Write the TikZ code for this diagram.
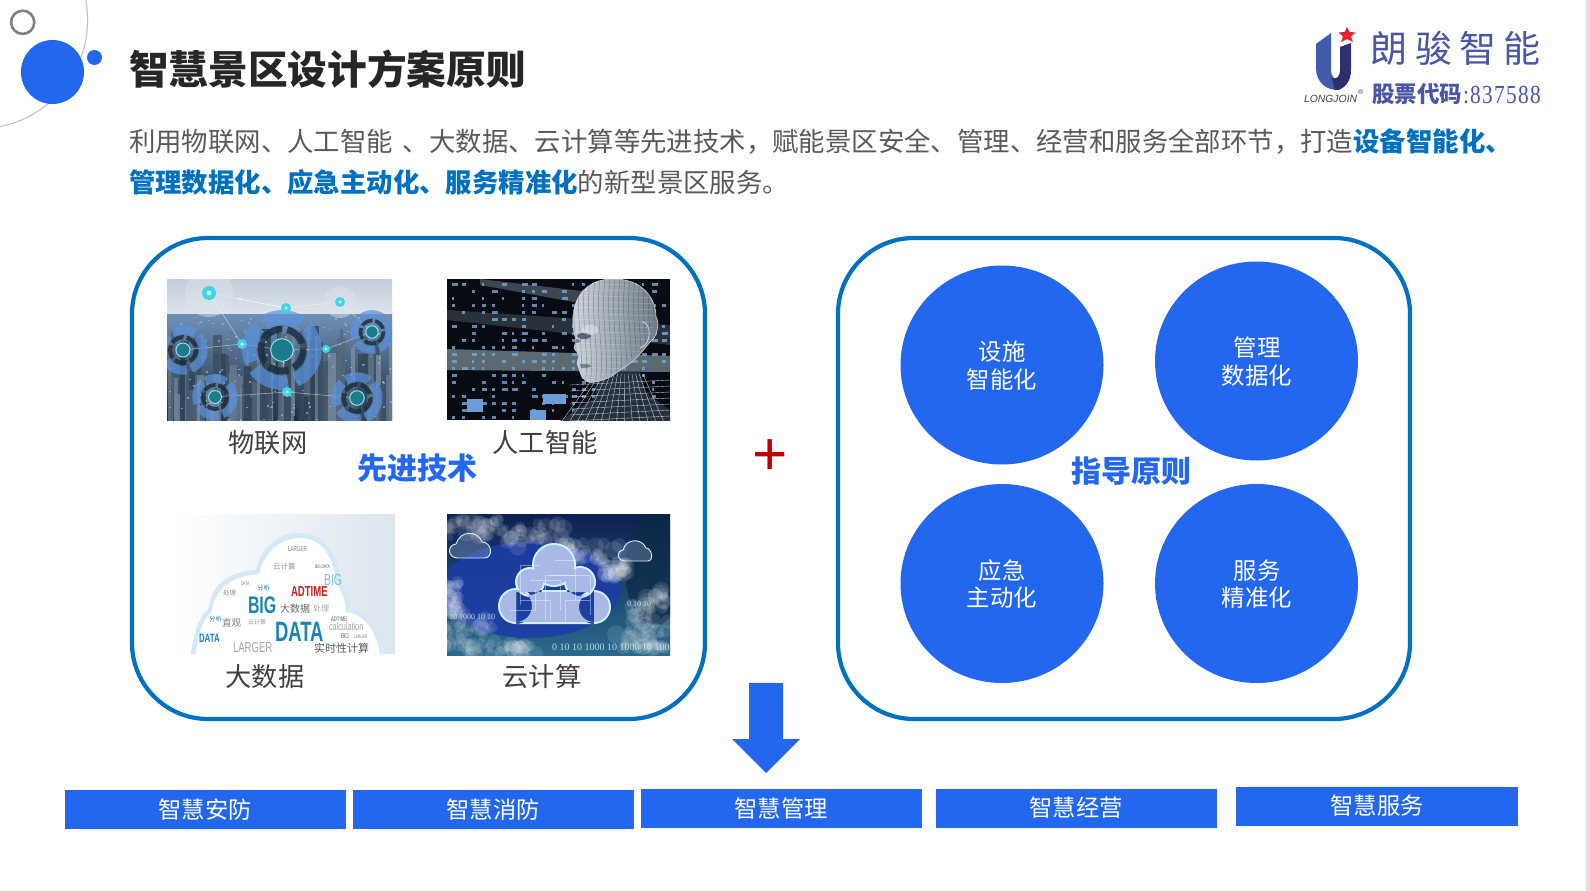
\documentclass[tikz,border=0pt]{standalone}
\usepackage{fontspec}
\setmainfont{Noto Sans CJK SC}
\newfontfamily\plusfont{Noto Sans}
\newfontfamily\logolat{Liberation Sans}
\newfontfamily\logonum[FakeStretch=0.82,LetterSpace=5]{Liberation Serif}
\newfontfamily\digitsfont{Liberation Serif}
\newfontfamily\cond[FakeStretch=0.66]{Liberation Sans}
\usetikzlibrary{shapes.geometric}
\definecolor{mainblue}{HTML}{2367EE}
\definecolor{boxblue}{HTML}{0070C0}
\definecolor{bodygray}{HTML}{595959}
\definecolor{labelgray}{HTML}{404040}
\definecolor{titlegray}{HTML}{262626}
\definecolor{logoblue}{HTML}{4A55A5}
\definecolor{logoL}{HTML}{3F5BA9}
\definecolor{logoR}{HTML}{2E2F6B}
\definecolor{logoRed}{HTML}{E8202A}
\definecolor{skyT}{HTML}{C2CEDC}
\definecolor{skyB}{HTML}{DEE4EB}
\definecolor{cityT}{HTML}{6F90B6}
\definecolor{cityB}{HTML}{1E2E40}
\definecolor{bldL}{HTML}{9DB2C8}
\definecolor{bldD}{HTML}{1F3042}
\definecolor{ringA}{HTML}{5B93E0}
\definecolor{ringB}{HTML}{1C3044}
\definecolor{ringC}{HTML}{1E7A8C}
\definecolor{iconC}{HTML}{3FD5E5}
\definecolor{aiBg}{HTML}{070B12}
\definecolor{aiBand}{HTML}{6A7A82}
\definecolor{aiDot}{HTML}{7BA6D6}
\definecolor{aiBlock}{HTML}{6E9CD8}
\definecolor{faceL}{HTML}{CFD6DD}
\definecolor{faceR}{HTML}{6C7884}
\definecolor{faceM}{HTML}{26303C}
\definecolor{dataBlue}{HTML}{1A84B4}
\definecolor{dataRed}{HTML}{C8201E}
\definecolor{dataBgR}{HTML}{DCE6EE}
\definecolor{glow}{HTML}{D3E9F5}
\definecolor{ccT}{HTML}{0E2050}
\definecolor{ccB}{HTML}{2A6A8C}
\definecolor{ccM}{HTML}{1C3CA8}
\definecolor{ccR}{HTML}{0A2A44}
\definecolor{ccLine}{HTML}{CDF3F8}
\definecolor{ccIn}{HTML}{A9B8E4}
\newcommand{\fs}[1]{\fontsize{#1}{#1}\selectfont}
\tikzset{
  txt/.style={inner sep=0pt,outer sep=0pt,anchor=base},
  txtw/.style={inner sep=0pt,outer sep=0pt,anchor=base west},
  bodytext/.style={txtw,text=bodygray,font=\fs{26.4}},
  piclabel/.style={txt,text=labelgray,font=\fs{26.2}},
  headblue/.style={txt,text=mainblue,font=\fs{30}\bfseries},
  roundbox/.style={draw=boxblue,line width=4.2pt,rounded corners=76pt,fill=white},
  principle/.style={ellipse,fill=mainblue,minimum width=203pt,minimum height=199pt,inner sep=0pt},
  circtext/.style={txt,text=white,font=\fs{23.4}},
  bar/.style={fill=mainblue,inner sep=0pt},
  bartext/.style={txt,text=white,font=\fs{23.3}},
  cj/.style={txtw,font=\fs{#1}},
  cb/.style={txtw,font=\cond\bfseries\fs{#1},text=dataBlue},
  cg/.style={txtw,font=\cond\fs{#1},text=black!50},
  cdig/.style={txtw,text=ccLine,font=\digitsfont\fs{#1},opacity=.85},
}
\newcommand{\ringg}[3]{%
  \draw[line width=#3*0.34pt,color=ringA,opacity=.7,dash pattern=on #3*0.9pt off #3*0.18pt] (#1,#2) circle [radius=#3*0.78];
  \draw[line width=#3*0.16pt,color=ringB,opacity=.85,dash pattern=on #3*0.5pt off #3*0.12pt] (#1,#2) circle [radius=#3*0.5];
  \fill[color=ringC] (#1,#2) circle [radius=#3*0.27];
  \draw[color=iconC!60!white,line width=1pt] (#1,#2) circle [radius=#3*0.27];
}
\newcommand{\cicon}[3]{\fill[color=iconC] (#1,#2) circle [radius=#3];\fill[white,opacity=.7] (#1,#2) circle [radius=#3*0.35];}
\newcommand{\cloudshape}[2]{%
  \fill[#1] (516,606) circle [radius=18-#2] (530,582) circle [radius=15-#2] (554,565) circle [radius=22-#2]
   (580,582) circle [radius=16-#2] (594,607) circle [radius=17-#2] (516,590+#2) rectangle (594,624-#2);
}
\begin{document}
\begin{tikzpicture}[x=1pt,y=-1pt]
\useasboundingbox (0,0) rectangle (1590,891);
\clip (0,0) rectangle (1590,891);
\fill[white] (0,0) rectangle (1590,891);
\fill[color=black!12] (1586,0) rectangle (1590,891);

% decoration, top left
\draw[color=black!25,line width=1pt] (-21,20) circle [radius=108.6];
\fill[mainblue] (52.5,72) ellipse [x radius=31.5,y radius=32];
\fill[mainblue] (94.5,57.5) circle [radius=7.5];
\draw[color=black!50,line width=2.6pt] (22.7,22.3) circle [radius=11.6];

% title and body
\node[txtw,text=titlegray,font=\fs{39.7}\bfseries] (title) at (129,84.5) {智慧景区设计方案原则};
\node[bodytext] (line1) at (129,151) {利用物联网、人工智能\hspace{10pt}、大数据、云计算等先进技术，赋能景区安全、管理、经营和服务全部环节，打造\textcolor{boxblue}{\bfseries 设备智能化、}};
\node[bodytext] (line2) at (129,192) {\textcolor{boxblue}{\bfseries 管理数据化、应急主动化、服务精准化}的新型景区服务。};

% logo
\fill[logoL] (1316,44) -- (1331,33) -- (1331,70) .. controls (1331,76) and (1334,80) .. (1340,80) -- (1340,90) .. controls (1326,91) and (1316,82) .. (1316,68) -- cycle;
\fill[logoR] (1340,47) -- (1351,43) -- (1351,70) .. controls (1351,82) and (1344,90) .. (1335,90) .. controls (1333,85) and (1333,82) .. (1332,78) .. controls (1337,80) and (1340,76) .. (1340,70) -- cycle;
\fill[logoRed] (1347,27) -- (1349.4,32) -- (1355.5,32.5) -- (1351,36.5) -- (1353,42) -- (1347,39) -- (1341,42) -- (1343,36.5) -- (1338.5,32.5) -- (1344.6,32) -- cycle;
\node[txtw,text=black!75,font=\logolat\itshape\fs{10.4}] (logoname) at (1304,102) {LONGJOIN};
\node[txtw,text=black!75,font=\logolat\fs{7}] (logoreg) at (1358,95) {®};
\node[txt,text=logoblue,font=\fs{37}] (lg1) at (1389,63) {朗};
\node[txt,text=logoblue,font=\fs{37}] (lg2) at (1434,63) {骏};
\node[txt,text=logoblue,font=\fs{37}] (lg3) at (1478,63) {智};
\node[txt,text=logoblue,font=\fs{37}] (lg4) at (1522,63) {能};
\node[txtw,text=logoblue,font=\fs{22.5}\bfseries] (lg5) at (1372,102) {股票代码};
\node[txtw,text=logoblue,font=\logonum\fs{26}] (lg6) at (1463,103) {:837588};

% boxes
\draw[roundbox] (132,238) rectangle (705,719);
\draw[roundbox] (838,238) rectangle (1410,719);

% picture 1: internet of things
\begin{scope}
\clip (167,279) rectangle (392,420);
\shade[top color=skyT,bottom color=skyB] (167,279) rectangle (392,315);
\shade[top color=cityT,bottom color=cityB] (167,314) rectangle (392,420);
\pgfmathsetseed{7}
\foreach \i in {1,...,110}{
  \pgfmathsetmacro\xa{167+225*rnd}
  \pgfmathsetmacro\ya{325+75*rnd}
  \pgfmathsetmacro\wa{3+7*rnd}
  \pgfmathsetmacro\sh{int(5+70*rnd)}
  \fill[color=bldL!\sh!bldD,opacity=.8] (\xa,\ya) rectangle +(\wa,90);
}
\foreach \i in {1,...,160}{
  \pgfmathsetmacro\xa{167+225*rnd}
  \pgfmathsetmacro\ya{316+104*rnd}
  \fill[bldL,opacity=.7] (\xa,\ya) rectangle +(2,1.5);
}
\foreach \ax/\ay/\bx/\by in {209/293/286/308,286/308/340/302,183/350/242/344,242/344/282/350,282/350/326/349,326/349/372/332,282/350/287/392,287/392/215/397,287/392/357/398,340/302/372/332,209/293/242/344,240/299/286/308}{
  \draw[white,opacity=.5,line width=.6pt] (\ax,\ay) -- (\bx,\by);
  \fill[white] (\ax,\ay) circle [radius=1.1];
}
\fill[color=skyB,opacity=.45] (209,293) circle [radius=24];
\fill[color=skyB,opacity=.45] (340,302) circle [radius=16];
\ringg{282}{350}{42}
\ringg{183}{350}{26}
\ringg{215}{397}{24}
\ringg{357}{398}{27}
\ringg{372}{332}{23}
\cicon{209}{293}{7}
\cicon{286}{308}{5}
\cicon{340}{302}{5}
\cicon{242}{344}{5}
\cicon{326}{349}{4}
\cicon{287}{392}{5}
\end{scope}

% picture 2: artificial intelligence
\begin{scope}
\clip (447,279) rectangle (670,420);
\fill[aiBg] (447,279) rectangle (670,420);
\fill[aiBand,opacity=.55] (480,279) -- (590,292) -- (590,305) -- (480,285) -- cycle;
\fill[aiBand,opacity=.85] (447,349) -- (670,356) -- (670,372) -- (447,370) -- cycle;
\fill[aiBand,opacity=.35] (447,310) -- (670,325) -- (670,345) -- (447,320) -- cycle;
\pgfmathsetseed{11}
\foreach \xx in {452,462,...,668}{
 \foreach \yy in {283,290,...,418}{
  \pgfmathsetmacro\pp{rnd}
  \ifdim\pp pt>0.45pt
   \pgfmathsetmacro\sz{2+4*rnd}
   \fill[aiDot,opacity=.8] (\xx,\yy) rectangle +(\sz,3);
  \fi
 }
}
\fill[aiBlock] (467,399) rectangle (483,412);
\fill[aiBlock] (543,394) rectangle (566,404);
\fill[aiBlock] (530,410) rectangle (546,420);
% neck and shoulders
\fill[faceM] (599,372) -- (640,372) -- (645,392) -- (672,412) -- (672,421) -- (560,421) -- (578,408) -- (595,398) -- cycle;
\foreach \q in {0,6,...,78}{\draw[color=faceL,line width=.35pt] (596+\q*.6,374) -- (562+\q*1.3,421);}
\foreach \q in {380,386,...,420}{\draw[color=faceL,line width=.35pt] (570,\q+5) -- (670,\q);}
% head
\shade[left color=faceL,right color=faceR,draw=faceL,line width=.6pt]
 (614,279) .. controls (642,279) and (656,298) .. (656,317) .. controls (660,322) and (657,338) .. (650,342)
 .. controls (642,352) and (634,362) .. (623,368) -- (612,376) .. controls (600,382) and (590,384) .. (586,381)
 .. controls (580,378) and (580,370) .. (577,363) -- (579,355) -- (574,348) -- (576,340)
 .. controls (570,322) and (572,300) .. (586,288) .. controls (594,281) and (604,279) .. (614,279) -- cycle;
\begin{scope}
\clip (614,279) .. controls (642,279) and (656,298) .. (656,317) -- (650,342) -- (612,376) -- (586,381) -- (574,348) -- (576,340) .. controls (570,322) and (572,300) .. (586,288) .. controls (594,281) and (604,279) .. (614,279) -- cycle;
\foreach \q in {570,575,...,660}{\draw[color=faceM,opacity=.4,line width=.5pt] (\q,279) .. controls (\q-5,320) and (\q+5,350) .. (\q,385);}
\foreach \q in {283,289,...,385}{\draw[color=white,opacity=.25,line width=.5pt] (570,\q) -- (660,\q+3);}
\fill[faceM,opacity=.65] (584,336) ellipse [x radius=7,y radius=3];
\fill[faceM,opacity=.5] (577,341) ellipse [x radius=3,y radius=2];
\fill[faceM,opacity=.45] (584,366) ellipse [x radius=7,y radius=2];
\fill[white,opacity=.35] (590,330) ellipse [x radius=8,y radius=5];
\end{scope}
\draw[color=faceL,line width=.8pt] (642,322) .. controls (652,322) and (652,345) .. (640,348);
\end{scope}

% picture 3: big data
\begin{scope}
\clip (170,514) rectangle (395,653);
\shade[left color=white,right color=dataBgR] (170,514) rectangle (395,653);
\fill[glow] (190,660) .. controls (194,630) and (200,615) .. (208,610) .. controls (212,585) and (226,572) .. (256,570) .. controls (262,545) and (280,533) .. (300,533) .. controls (325,533) and (338,555) .. (340,580) .. controls (346,590) and (350,600) .. (350,608) .. controls (372,610) and (384,640) .. (384,660) -- cycle;
\fill[white] (195,660) .. controls (198,632) and (204,618) .. (211,613) .. controls (215,590) and (230,576) .. (259,574) .. controls (265,550) and (282,538) .. (300,538) .. controls (322,538) and (334,558) .. (336,583) .. controls (342,592) and (346,602) .. (346,612) .. controls (368,614) and (380,640) .. (380,660) -- cycle;
\node[cg=7] (w1) at (288,551) {LARGER};
\node[cj=7.5,text=black!40] (w2) at (273,569) {云计算};
\node[cg=5,text=black!65] (w2b) at (315,568) {BIG DATA};
\node[cb=12,font=\cond\fs{16},text=dataBlue!55!white] (w3) at (324,585) {BIG};
\node[cg=5] (w4) at (241,585) {DATA};
\node[cj=6.5,text=black!45] (w5) at (223,595) {处理};
\node[cj=6.5,text=dataBlue] (w6) at (257,590) {分析};
\node[cb=14.5,text=dataRed] (w7) at (291,596) {ADTIME};
\node[cb=24] (w8) at (248,613) {BIG};
\node[cj=10,text=black!60] (w9) at (280,612) {大数据};
\node[cj=8,text=black!35] (w10) at (313,611) {处理};
\node[cj=6.5,text=dataBlue] (w11) at (209,621) {分析};
\node[cj=9.5,text=black!50] (w12) at (222,626) {直观};
\node[cj=6,text=black!40] (w13) at (248,624) {云计算};
\node[cb=28] (w14) at (275,641) {DATA};
\node[cb=12] (w15) at (199,642) {DATA};
\node[cg=6.5,text=black!65] (w16) at (331,621) {ADTIME};
\node[cg=11,text=black!35] (w17) at (329,630) {calculation};
\node[cg=7,text=black!60] (w18) at (341,638) {BIG};
\node[cg=5] (w18b) at (354,638) {LARGER};
\node[cg=14.5,text=black!35] (w19) at (233,652) {LARGER};
\node[cj=11,text=black!65] (w20) at (314,652) {实时性计算};
\end{scope}

% picture 4: cloud computing
\begin{scope}
\clip (447,514) rectangle (670,655);
\shade[top color=ccT,bottom color=ccB] (447,514) rectangle (670,655);
\fill[ccM,opacity=.85] (530,590) ellipse [x radius=90,y radius=48];
\fill[ccR,opacity=.7] (655,570) ellipse [x radius=30,y radius=55];
\pgfmathsetseed{5}
\foreach \cx/\cy/\rx/\ry in {475/528/30/10, 535/535/32/12, 590/552/32/10, 615/570/14/8, 650/610/18/22, 470/628/26/18, 452/598/8/16, 500/650/36/6, 640/640/26/10}{
  \foreach \k in {1,...,34}{
    \pgfmathsetmacro\px{\cx+\rx*(2*rnd-1)}
    \pgfmathsetmacro\py{\cy+\ry*(2*rnd-1)}
    \pgfmathsetmacro\pr{3+6*rnd}
    \fill[white,opacity=.11] (\px,\py) circle [radius=\pr];
  }
}
\draw[ccLine,line width=.9pt,fill=ccIn,fill opacity=.3] (458,558) .. controls (447,558) and (447,545) .. (456,544) .. controls (460,530) and (478,530) .. (482,542) .. controls (492,542) and (494,558) .. (484,558) -- cycle;
\draw[ccLine,line width=.9pt,fill=ccIn,fill opacity=.3] (626,561) .. controls (616,561) and (616,551) .. (623,550) .. controls (626,538) and (642,538) .. (646,548) .. controls (652,548) and (654,561) .. (648,561) -- cycle;
\cloudshape{ccLine}{0}
\cloudshape{ccIn}{2}
\foreach \ax/\ay/\bx/\by in {520/600/550/620, 530/580/560/610, 555/560/575/600, 575/575/545/620, 590/600/565/622, 510/610/535/590, 550/575/590/615, 540/565/520/605}{
  \draw[white,opacity=.4,line width=.7pt] (\ax,\ay) -- (\bx,\ay) -- (\bx,\by);
}
\node[cdig=10] (d1) at (552,650) {0 10 10 1000 10 1000 10 1000};
\node[cdig=8] (d2) at (449,619) {10 1000 10 10};
\node[cdig=8] (d3) at (627,606) {0 10 10};
\end{scope}

% captions
\node[piclabel] (cap1) at (268,452) {物联网};
\node[piclabel] (cap2) at (545,452) {人工智能};
\node[piclabel] (cap3) at (265,686) {大数据};
\node[piclabel] (cap4) at (542,686) {云计算};
\node[headblue] (adv) at (417.5,479) {先进技术};

\node[txt,text=red!75!black,font=\plusfont\fs{62}] (plus) at (770.5,476) {+};

% principles
\node[principle] (c1) at (1002,365) {};
\node[principle] (c2) at (1256.5,361) {};
\node[principle] (c3) at (1002,583.5) {};
\node[principle] (c4) at (1256.5,583.5) {};
\node[circtext] at (1002,360) {设施};
\node[circtext] at (1002,388) {智能化};
\node[circtext] at (1257,356) {管理};
\node[circtext] at (1257,384) {数据化};
\node[circtext] at (1002,579.5) {应急};
\node[circtext] at (1002,606.5) {主动化};
\node[circtext] at (1257,579.5) {服务};
\node[circtext] at (1257,606.5) {精准化};
\node[headblue] (guide) at (1131,482) {指导原则};

% arrow
\fill[mainblue] (749,683) -- (783,683) -- (783,739) -- (800,739) -- (766,773) -- (732,739) -- (749,739) -- cycle;

% bottom bars
\fill[bar] (65,790) rectangle (346,829);
\fill[bar] (353,790) rectangle (634,829);
\fill[bar] (641,789) rectangle (922,828);
\fill[bar] (936,789) rectangle (1217,828);
\fill[bar] (1236,787) rectangle (1518,826);
\node[bartext] (b1) at (205,818.5) {智慧安防};
\node[bartext] (b2) at (493,818.5) {智慧消防};
\node[bartext] (b3) at (781,817) {智慧管理};
\node[bartext] (b4) at (1076,816.5) {智慧经营};
\node[bartext] (b5) at (1377,814.5) {智慧服务};
\end{tikzpicture}
\end{document}
